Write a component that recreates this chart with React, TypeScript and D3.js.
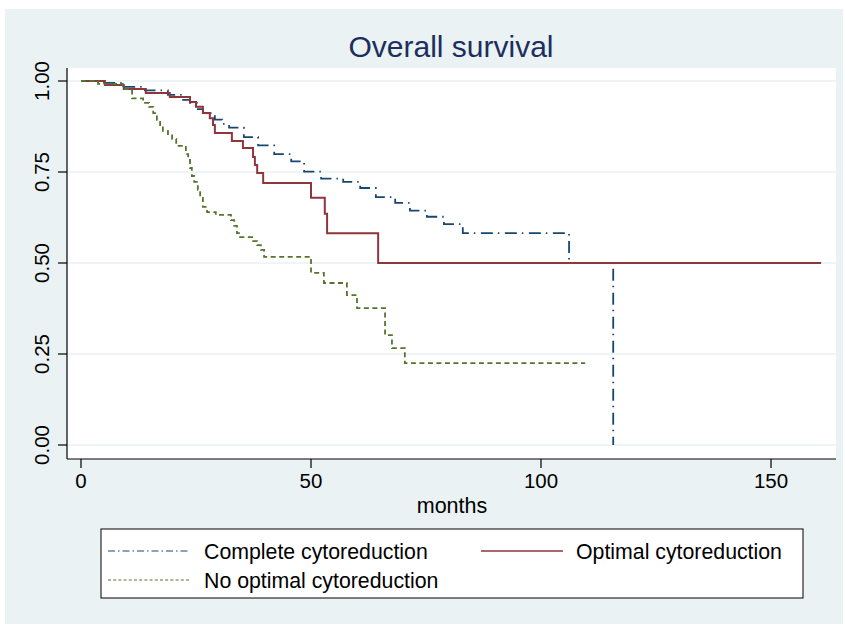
import React from "react";
import * as d3 from "d3";

const title = "Overall survival";
const xLabel = "months";
const xTicks = [0, 50, 100, 150];
const yTicks = [0, 0.25, 0.5, 0.75, 1];
const seriesNames = ["Complete cytoreduction", "Optimal cytoreduction", "No optimal cytoreduction"];

const completeTime = [0, 4.1, 9.3, 13.9, 18.9, 22.2, 23.7, 25.4, 26.5, 29.1, 30.7, 32.2, 35.4, 38.5, 42.0, 45.7, 48.5, 52.2, 57.0, 60.7, 64.1, 68.3, 71.5, 75.2, 78.9, 83.0, 106.1, 115.7];
const completeSurv = [1, 0.995, 0.984, 0.974, 0.962, 0.948, 0.94, 0.923, 0.912, 0.894, 0.882, 0.872, 0.846, 0.823, 0.799, 0.779, 0.751, 0.732, 0.723, 0.706, 0.681, 0.665, 0.644, 0.627, 0.607, 0.582, 0.5, 0];

const optimalTime = [0, 5.2, 9.3, 14.1, 19.3, 23.7, 25.0, 26.5, 28.0, 28.7, 29.1, 32.8, 35.2, 37.4, 37.8, 38.3, 39.6, 50.0, 53.0, 53.5, 64.6, 160.9];
const optimalSurv = [1, 0.989, 0.978, 0.967, 0.956, 0.942, 0.929, 0.912, 0.898, 0.879, 0.857, 0.835, 0.816, 0.791, 0.769, 0.747, 0.72, 0.679, 0.635, 0.582, 0.5, 0.5];

const noOptTime = [0, 3.7, 9.1, 11.1, 13.5, 14.8, 15.7, 16.5, 17.2, 17.8, 18.9, 19.8, 20.7, 22.8, 23.3, 23.7, 24.1, 24.6, 25.4, 25.9, 26.5, 27.4, 29.3, 32.6, 33.3, 33.9, 34.6, 37.2, 38.3, 39.1, 39.8, 50.0, 52.8, 57.8, 60.0, 66.1, 67.6, 70.4, 109.6];
const noOptSurv = [1, 0.992, 0.978, 0.952, 0.94, 0.929, 0.912, 0.893, 0.879, 0.863, 0.854, 0.841, 0.822, 0.799, 0.783, 0.761, 0.739, 0.723, 0.701, 0.679, 0.654, 0.64, 0.632, 0.618, 0.602, 0.582, 0.571, 0.56, 0.549, 0.536, 0.517, 0.473, 0.445, 0.412, 0.376, 0.302, 0.266, 0.225, 0.225];

const W = 845;
const H = 625;
const FONT = "'Liberation Sans', Arial, Helvetica, sans-serif";

export default function App() {
  const x = d3.scaleLinear().domain([0, 150]).range([81, 771]);
  const y = d3.scaleLinear().domain([0, 1]).range([445, 81]);
  const plot = { left: 67, right: 836, top: 68, bottom: 459 };

  const line = d3
    .line<[number, number]>()
    .x((d) => x(d[0]))
    .y((d) => y(d[1]))
    .curve(d3.curveStepAfter);

  const mk = (t: number[], s: number[]) => t.map((v, i) => [v, s[i]] as [number, number]);

  const series = [
    { name: seriesNames[0], d: line(mk(completeTime, completeSurv)) || "", color: "#1a476f", dash: "12 5 1.5 5.5", width: 1.8, legDash: "7 3 1.5 3", legW: 1.2 },
    { name: seriesNames[1], d: line(mk(optimalTime, optimalSurv)) || "", color: "#90353b", dash: "none", width: 2, legDash: "none", legW: 1.4 },
    { name: seriesNames[2], d: line(mk(noOptTime, noOptSurv)) || "", color: "#55752f", dash: "5 3.5", width: 1.8, legDash: "3 2.2", legW: 1.2 },
  ];

  const legendItems = [
    { s: series[0], lx: 108, tx: 204, ty: 551 },
    { s: series[1], lx: 481, tx: 576, ty: 551 },
    { s: series[2], lx: 108, tx: 204, ty: 580 },
  ];

  return (
    <svg width={W} height={H} style={{ position: "absolute", left: 0, top: 0, background: "#ffffff" }} fontFamily={FONT}>
      <rect x={5} y={9} width={838} height={615} fill="#eaf2f3" />
      <rect x={plot.left} y={plot.top} width={plot.right - plot.left} height={plot.bottom - plot.top} fill="#ffffff" />
      {yTicks.map((t) => (
        <line key={"g" + t} x1={plot.left} x2={plot.right} y1={y(t)} y2={y(t)} stroke="#eaf2f3" strokeWidth={1.6} />
      ))}
      <text x={451} y={57} textAnchor="middle" fontSize={30} fill="#1c2e5e">{title}</text>
      {series.map((s) => (
        <path key={s.name} d={s.d} fill="none" stroke={s.color} strokeWidth={s.width} strokeDasharray={s.dash} />
      ))}
      <line x1={plot.left} x2={plot.left} y1={plot.top} y2={plot.bottom} stroke="#000" strokeWidth={1.2} />
      <line x1={plot.left} x2={plot.right} y1={plot.bottom} y2={plot.bottom} stroke="#000" strokeWidth={1.2} />
      {yTicks.map((t) => (
        <g key={"y" + t}>
          <line x1={plot.left - 9} x2={plot.left} y1={y(t)} y2={y(t)} stroke="#000" strokeWidth={1.2} />
          <text transform={`translate(49,${y(t)}) rotate(-90)`} textAnchor="middle" fontSize={20.5} fill="#000">
            {t.toFixed(2)}
          </text>
        </g>
      ))}
      {xTicks.map((t) => (
        <g key={"x" + t}>
          <line x1={x(t)} x2={x(t)} y1={plot.bottom} y2={plot.bottom + 9} stroke="#000" strokeWidth={1.2} />
          <text x={x(t)} y={488} textAnchor="middle" fontSize={20.5} fill="#000">{t}</text>
        </g>
      ))}
      <text x={452} y={513} textAnchor="middle" fontSize={21.5} fill="#000">{xLabel}</text>
      <rect x={101} y={529} width={702} height={69} fill="#ffffff" stroke="#000" strokeWidth={1} />
      {legendItems.map((it) => (
        <g key={"l" + it.s.name}>
          <line x1={it.lx} x2={it.lx + 82} y1={it.ty} y2={it.ty} stroke={it.s.color} strokeWidth={it.s.legW} strokeDasharray={it.s.legDash} />
          <text x={it.tx} y={it.ty + 7.5} fontSize={21.3} fill="#000">{it.s.name}</text>
        </g>
      ))}
    </svg>
  );
}
